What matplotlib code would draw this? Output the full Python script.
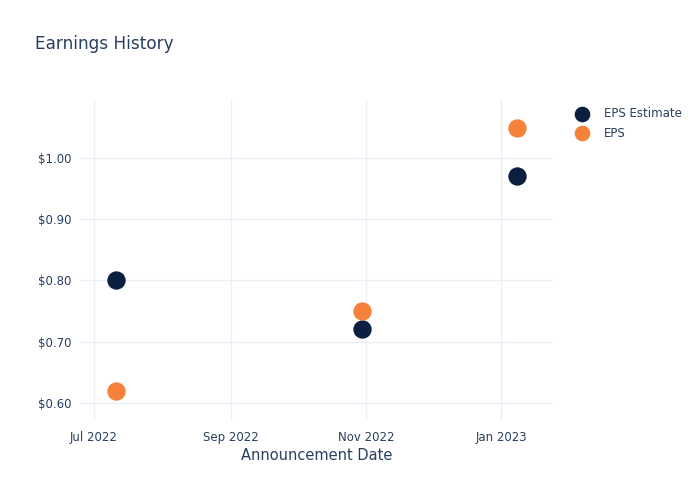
import numpy as np
import pandas as pd
import matplotlib
matplotlib.use("Agg")
from matplotlib import pyplot as plt
import matplotlib.dates as mdates
from matplotlib.ticker import FuncFormatter

# data
dates = pd.to_datetime(["2022-07-11", "2022-10-30", "2023-01-08"])
eps_estimate = [0.80, 0.72, 0.97]
eps_actual = [0.62, 0.75, 1.05]

NAVY = "#0b1f41"
ORANGE = "#f6813a"
TEXT = "#2a3f5f"
GRID = "#ebf0f8"

plt.rcParams["font.family"] = ["DejaVu Sans"]

fig = plt.figure(figsize=(7, 5), dpi=100)
ax = fig.add_axes([0.1143, 0.16, 0.676, 0.64])

ax.scatter(dates, eps_estimate, s=175, color=NAVY, label="EPS Estimate", zorder=3, linewidths=0)
ax.scatter(dates, eps_actual, s=175, color=ORANGE, label="EPS", zorder=3, linewidths=0)

ax.set_xlim(pd.Timestamp("2022-06-24 16:00"), pd.Timestamp("2023-01-24 12:00"))
ax.set_ylim(0.572, 1.095)

ax.xaxis.set_major_locator(mdates.MonthLocator(bymonth=[1, 3, 5, 7, 9, 11]))
ax.xaxis.set_major_formatter(mdates.DateFormatter("%b %Y"))
ax.set_yticks([0.6, 0.7, 0.8, 0.9, 1.0])
ax.yaxis.set_major_formatter(FuncFormatter(lambda v, _: "${:.2f}".format(v)))

for s in ax.spines.values():
    s.set_visible(False)
ax.grid(True, color=GRID, linewidth=1)
ax.set_axisbelow(True)
ax.tick_params(length=0, colors=TEXT, labelsize=8.5)
ax.tick_params(axis="x", pad=8)
ax.tick_params(axis="y", pad=6)

ax.set_xlabel("Announcement Date", color=TEXT, fontsize=10.5, labelpad=3)
fig.text(0.05, 0.912, "Earnings History", color=TEXT, fontsize=12.2, va="center")

leg = ax.legend(loc="upper left", bbox_to_anchor=(1.02, 1.0), frameon=False,
                fontsize=8.5, labelcolor=TEXT, handletextpad=0.9, labelspacing=0.55,
                borderaxespad=0.2, markerscale=0.85)

fig.savefig("out.png", dpi=100, facecolor="white")
